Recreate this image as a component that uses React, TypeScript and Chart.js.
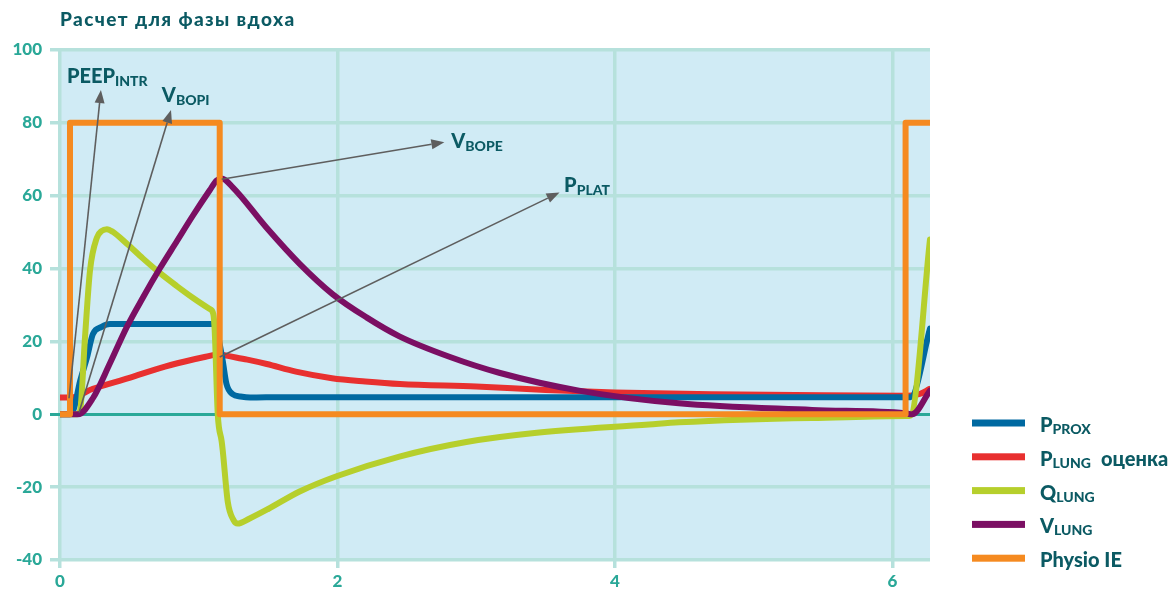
import React, { useEffect, useRef } from "react";
import { Chart, registerables } from "chart.js";

Chart.register(...registerables);

const FONT = "Lato, 'Open Sans', sans-serif";
const WEIGHT = 900;
const TITLE = "Расчет для фазы вдоха";

const X_MIN = 0;
const X_MAX = 6.27;
const X_STEP = 2;
const Y_MIN = -40;
const Y_MAX = 100;
const Y_STEP = 20;

// P_PROX
const pproxT = [0, 0.07, 0.1, 0.144, 0.194, 0.237, 0.3, 0.36, 0.6, 0.9, 1.1, 1.13, 1.15, 1.173, 1.2, 1.245, 1.3, 1.37, 1.6, 2.5, 4, 5, 6.13, 6.27];
const pproxV = [0, 0, 1.5, 9, 15.5, 22, 24, 24.8, 24.8, 24.8, 24.8, 23.5, 19.5, 14.6, 8.3, 5.5, 4.9, 4.6, 4.7, 4.7, 4.7, 4.7, 4.7, 23.5];

// P_LUNG оценка
const plungT = [0, 0.08, 0.237, 0.5, 0.72, 0.9, 1.05, 1.15, 1.2, 1.35, 1.49, 1.7, 1.96, 2.2, 2.45, 3.0, 3.5, 4.0, 4.7, 5.5, 6.1, 6.19, 6.27];
const plungV = [4.6, 4.6, 7, 10, 12.7, 14.5, 15.8, 16.5, 16.1, 15, 13.8, 11.7, 9.9, 9.0, 8.3, 7.6, 6.7, 6.0, 5.5, 5.2, 5.1, 5.5, 7];

// Q_LUNG
const qlungT = [0, 0.12, 0.144, 0.18, 0.216, 0.266, 0.3, 0.338, 0.38, 0.482, 0.597, 0.719, 0.842, 0.957, 1.079, 1.105, 1.115, 1.137, 1.165, 1.173, 1.209, 1.25, 1.28, 1.367, 1.5, 1.727, 1.993, 2.446, 2.928, 3.403, 4.245, 4.46, 5.417, 6.094, 6.13, 6.27];
const qlungV = [0, 0, 0.8, 21, 39.4, 48.5, 50.3, 50.8, 50.1, 46.8, 42.8, 38.8, 35.2, 32, 28.9, 27.5, 22.9, 0, -7.4, -10, -24, -29, -30, -28.6, -26, -21.2, -17, -11.6, -7.6, -5.2, -2.8, -2.2, -1, -0.5, -0.3, 48];

// V_LUNG
const vlungT = [0, 0.13, 0.237, 0.36, 0.482, 0.597, 0.719, 0.842, 0.957, 1.079, 1.129, 1.165, 1.245, 1.489, 1.727, 1.964, 2.209, 2.446, 2.806, 3.165, 3.74, 4.46, 5.42, 6.09, 6.14, 6.27];
const vlungV = [0, 0, 4.4, 14, 24, 32, 40, 47.5, 54.5, 61.5, 64.2, 64.7, 62.3, 51.2, 41.3, 33, 26.6, 21.4, 15.8, 11.4, 6.5, 3.0, 1.2, 0.3, 0, 6.5];

// Physio IE
const physioT = [0, 0.072, 0.072, 1.151, 1.151, 6.094, 6.094, 6.27];
const physioV = [0, 0, 80, 80, 0, 0, 80, 80];

const seriesMain = ["P", "P", "Q", "V", "Physio IE"];
const seriesSub = ["PROX", "LUNG", "LUNG", "LUNG", ""];
const seriesSuffix = ["", "оценка", "", "", ""];
const seriesColors = ["#0069a1", "#e8302f", "#b6cf2c", "#7b0f63", "#f58a20"];

// annotation labels (label anchor and arrow, in data units)
const annMain = ["PEEP", "V", "V", "P"];
const annSub = ["INTR", "BOPI", "BOPE", "PLAT"];
const annLabelT = [0.05, 0.734, 2.82, 3.633];
const annLabelV = [90.9, 85.7, 73, 60.9];
const annFromT = [0.065, 0.137, 1.165, 1.151];
const annFromV = [4.4, 0.5, 64.5, 15.7];
const annToT = [0.295, 0.8, 2.77, 3.6];
const annToV = [89, 83.5, 74.7, 60.9];

const TEXT_DARK = "#0b5a63";
const TICK_COLOR = "#2aa898";
const GRID_COLOR = "#b6e1dc";
const PLOT_BG = "#d0ebf5";

function toPoints(t: number[], v: number[]) {
  return t.map((x, i) => ({ x, y: v[i] }));
}

function drawSubText(
  ctx: CanvasRenderingContext2D,
  x: number,
  y: number,
  main: string,
  sub: string,
  suffix: string,
  mainSize: number,
  subSize: number,
  subDy: number
) {
  ctx.textAlign = "left";
  ctx.textBaseline = "alphabetic";
  ctx.font = `${WEIGHT} ${mainSize}px ${FONT}`;
  ctx.fillText(main, x, y);
  let w = ctx.measureText(main).width;
  if (sub) {
    ctx.font = `${WEIGHT} ${subSize}px ${FONT}`;
    ctx.fillText(sub, x + w, y + subDy);
    w += ctx.measureText(sub).width;
  }
  if (suffix) {
    ctx.font = `${WEIGHT} ${mainSize}px ${FONT}`;
    ctx.fillText(suffix, x + w + 10, y);
  }
}

const overlayPlugin = {
  id: "overlay",
  beforeDraw(chart: any) {
    const { ctx, chartArea } = chart;
    ctx.save();
    ctx.fillStyle = PLOT_BG;
    ctx.fillRect(chartArea.left, chartArea.top, chartArea.right - chartArea.left, chartArea.bottom - chartArea.top);
    ctx.restore();
  },
  afterDatasetsDraw(chart: any) {
    const { ctx } = chart;
    const xs = chart.scales.x;
    const ys = chart.scales.y;
    ctx.save();
    for (let i = 0; i < annMain.length; i++) {
      const x1 = xs.getPixelForValue(annFromT[i]);
      const y1 = ys.getPixelForValue(annFromV[i]);
      const x2 = xs.getPixelForValue(annToT[i]);
      const y2 = ys.getPixelForValue(annToV[i]);
      const ang = Math.atan2(y2 - y1, x2 - x1);
      const headLen = 13;
      const headW = 5;
      const bx = x2 - headLen * Math.cos(ang);
      const by = y2 - headLen * Math.sin(ang);
      ctx.strokeStyle = "#5e5e5e";
      ctx.fillStyle = "#5e5e5e";
      ctx.lineWidth = 1.6;
      ctx.beginPath();
      ctx.moveTo(x1, y1);
      ctx.lineTo(bx, by);
      ctx.stroke();
      ctx.beginPath();
      ctx.moveTo(x2, y2);
      ctx.lineTo(bx + headW * Math.sin(ang), by - headW * Math.cos(ang));
      ctx.lineTo(bx - headW * Math.sin(ang), by + headW * Math.cos(ang));
      ctx.closePath();
      ctx.fill();

      ctx.fillStyle = TEXT_DARK;
      drawSubText(
        ctx,
        xs.getPixelForValue(annLabelT[i]),
        ys.getPixelForValue(annLabelV[i]),
        annMain[i],
        annSub[i],
        "",
        20,
        14,
        3
      );
    }
    ctx.restore();
  },
  afterDraw(chart: any) {
    const { ctx, chartArea } = chart;
    ctx.save();
    ctx.fillStyle = TEXT_DARK;
    ctx.font = `${WEIGHT} 19px ${FONT}`;
    ctx.textAlign = "left";
    ctx.textBaseline = "alphabetic";
    (ctx as any).letterSpacing = "1.4px";
    ctx.fillText(TITLE, chartArea.left, 26);
    (ctx as any).letterSpacing = "0px";

    const lx = chartArea.right + 42;
    const ly0 = 423;
    const dy = 33.8;
    for (let i = 0; i < seriesMain.length; i++) {
      const cy = ly0 + i * dy;
      ctx.fillStyle = seriesColors[i];
      ctx.fillRect(lx, cy - 3.5, 53, 7);
      ctx.fillStyle = TEXT_DARK;
      drawSubText(ctx, lx + 68, cy + 9, seriesMain[i], seriesSub[i], seriesSuffix[i], 20, 14, 2);
    }
    ctx.restore();
  },
};

export default function App() {
  const ref = useRef<HTMLCanvasElement | null>(null);

  useEffect(() => {
    if (!ref.current) return;
    const mk = (i: number, t: number[], v: number[], order: number, smooth: boolean) => ({
      label: seriesMain[i] + seriesSub[i],
      data: toPoints(t, v),
      borderColor: seriesColors[i],
      backgroundColor: seriesColors[i],
      borderWidth: 6,
      pointRadius: 0,
      fill: false,
      order,
      borderCapStyle: "round",
      borderJoinStyle: "round",
      cubicInterpolationMode: smooth ? "monotone" : "default",
      tension: 0,
    });
    const chart = new Chart(ref.current, {
      type: "line",
      data: {
        datasets: [
          mk(0, pproxT, pproxV, 4, true),
          mk(1, plungT, plungV, 5, true),
          mk(2, qlungT, qlungV, 3, true),
          mk(3, vlungT, vlungV, 2, true),
          mk(4, physioT, physioV, 1, false),
        ] as any,
      },
      options: {
        responsive: false,
        animation: false,
        devicePixelRatio: 1,
        layout: { padding: { top: 50, right: 245, left: 0, bottom: 0 } },
        plugins: {
          legend: { display: false },
          title: { display: false },
          tooltip: { enabled: false },
        },
        scales: {
          x: {
            type: "linear",
            min: X_MIN,
            max: X_MAX,
            border: { display: false },
            grid: { color: GRID_COLOR, lineWidth: 3.5, tickLength: 8, drawTicks: true },
            ticks: {
              stepSize: X_STEP,
              includeBounds: false,
              color: TICK_COLOR,
              font: { family: FONT, size: 17, weight: WEIGHT },
              padding: 3,
              maxRotation: 0,
            },
            afterFit(scale: any) {
              scale.height = 31;
            },
          },
          y: {
            type: "linear",
            min: Y_MIN,
            max: Y_MAX,
            border: { display: false },
            grid: {
              color: (c: any) => (c.tick && c.tick.value === 0 ? TICK_COLOR : GRID_COLOR),
              lineWidth: (c: any) => (c.tick && c.tick.value === 0 ? 3 : 3.5),
              tickLength: 10,
            },
            ticks: {
              stepSize: Y_STEP,
              color: TICK_COLOR,
              font: { family: FONT, size: 17, weight: WEIGHT },
              padding: 8,
            },
            afterFit(scale: any) {
              scale.width = 60;
            },
          },
        },
      } as any,
      plugins: [overlayPlugin],
    });
    return () => chart.destroy();
  }, []);

  return (
    <div style={{ position: "fixed", left: 0, top: 0, width: 1175, height: 591, background: "#fff" }}>
      <canvas ref={ref} width={1175} height={591} style={{ width: 1175, height: 591, display: "block" }} />
    </div>
  );
}
